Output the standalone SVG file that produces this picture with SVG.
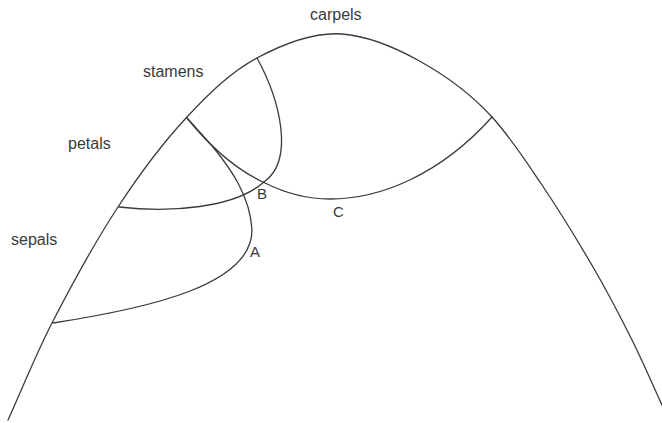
<svg xmlns="http://www.w3.org/2000/svg" width="662" height="423" viewBox="0 0 662 423">
<style>
.ln{fill:none;stroke:#3a3a3a;stroke-width:1.3;stroke-linecap:round;stroke-linejoin:round}
.lb{font-family:"Liberation Sans",Arial,sans-serif;font-size:16px;fill:#3a3a3a}
.pt{font-family:"Liberation Sans",Arial,sans-serif;font-size:15px;fill:#3a3a3a}
</style>
<rect width="662" height="423" fill="#ffffff"/>
<g id="outline">
<path class="ln" d="M8,420 C22.7,387.7 35.7,354.6 52,323 C72.4,283.4 93.6,244.2 118,207 C138.7,175.4 161.2,144.6 187,117 C207.8,94.7 230.1,72.4 257,58 C282.9,44.1 312.7,31.8 342,34 C387,37.4 453.6,74.8 492,117 C510.1,136.9 525,159.7 540,182 C558.7,209.7 576.2,238.1 593,267 C606.9,290.8 619.7,315.3 632,340 C642.7,361.4 652,383.3 662,405 L666,414"/>
</g>
<g id="boundaries">
<path id="stamen-boundary" class="ln" d="M257,58 C280,100 295,160 264,182"/>
<path id="carpel-boundary" class="ln" d="M187,118 Q225,165 265,183 C285,193 305,199 330,199 C380,199 440,175 492,117"/>
<path id="petal-boundary-A" class="ln" d="M187,118 L213,147 C230,168 250,195 252,230 C252,285 150,308 53,323"/>
<path id="petal-boundary-lower" class="ln" d="M119,207 C170,213 235,208 264,182"/>
</g>
<g id="labels">
<text class="lb" x="310" y="20">carpels</text>
<text class="lb" x="143" y="77">stamens</text>
<text class="lb" x="68" y="149">petals</text>
<text class="lb" x="11" y="245">sepals</text>
<text class="pt" x="257" y="199">B</text>
<text class="pt" x="333" y="217">C</text>
<text class="pt" x="250" y="257">A</text>
</g>
</svg>
